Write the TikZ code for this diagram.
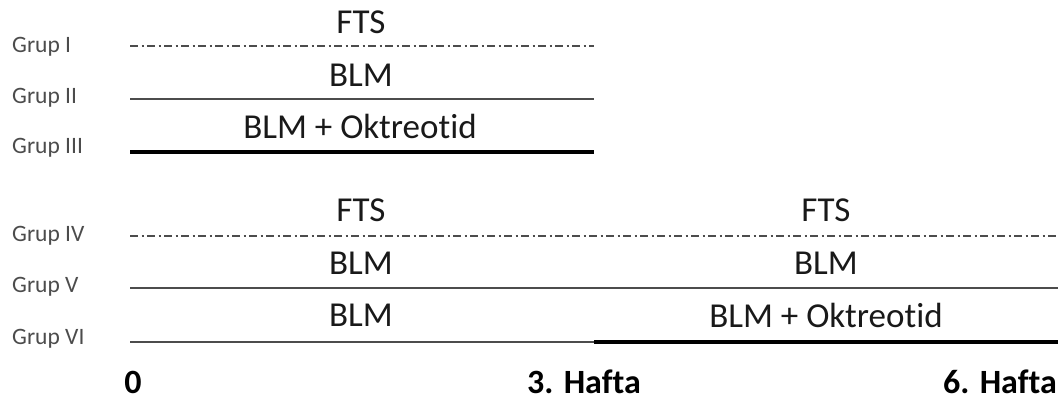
\documentclass[tikz,border=0pt]{standalone}
\usepackage{fontspec}
\setmainfont{Carlito}[Ligatures=NoCommon]
\usetikzlibrary{positioning}

\begin{document}
\begin{tikzpicture}[x=1pt,y=-1pt,
  grup/.style={anchor=west, inner sep=0pt, text=black!70, font=\fontsize{23.5}{24}\selectfont},
  bras/.style={inner sep=0pt, text=black!90, font=\fontsize{35}{35}\selectfont},
  temps/.style={inner sep=0pt, font=\bfseries\fontsize{34}{34}\selectfont},
  ligne/.style={line width=1.4pt, black!70},
  pointille/.style={ligne, dash pattern=on 8pt off 3.5pt on 2pt off 3.5pt},
  epais/.style={line width=4.2pt, black}]

\useasboundingbox (0,0) rectangle (1060,401);

\def \Debut {130}
\def \Milieu {594}
\def \Fin {1058}

% noms des groupes
\foreach \nom/\y in {I/47,II/98,III/148,IV/236,V/287,VI/339}{
  \node[grup] (g\nom) at (12,\y) {Grup \nom};
}

% extremites des lignes
\foreach \nom/\y in {I/46,II/99,III/152,IV/236,V/288,VI/342}{
  \coordinate (\nom a) at (\Debut,\y);
  \coordinate (\nom b) at (\Milieu,\y);
  \coordinate (\nom c) at (\Fin,\y);
}

% premier essai (3 semaines)
\draw[pointille] (Ia) -- (Ib);
\draw[ligne] (IIa) -- (IIb);
\draw[epais] (IIIa) -- (IIIb);
\node[bras] (fts1) at (361,22) {FTS};
\node[bras] (blm2) at (361,75) {BLM};
\node[bras] (blmo3) at (360,126) {BLM + Oktreotid};

% second essai (6 semaines)
\draw[pointille] (IVa) -- (IVc);
\draw[ligne] (Va) -- (Vc);
\draw[ligne] (VIa) -- (VIb);
\draw[epais] (VIb) -- (VIc);
\node[bras] (fts4) at (361,210) {FTS};
\node[bras] (fts4b) at (826,210) {FTS};
\node[bras] (blm5) at (361,263) {BLM};
\node[bras] (blm5b) at (826,263) {BLM};
\node[bras] (blm6) at (361,315) {BLM};
\node[bras] (blmo6b) at (826,315) {BLM + Oktreotid};

% axe du temps
\node[temps] (t0) at (133,382) {0};
\node[temps] (t3) at (584,382) {3. Hafta};
\node[temps, anchor=east] (t6) at (1057,382) {6. Hafta};

\end{tikzpicture}
\end{document}
